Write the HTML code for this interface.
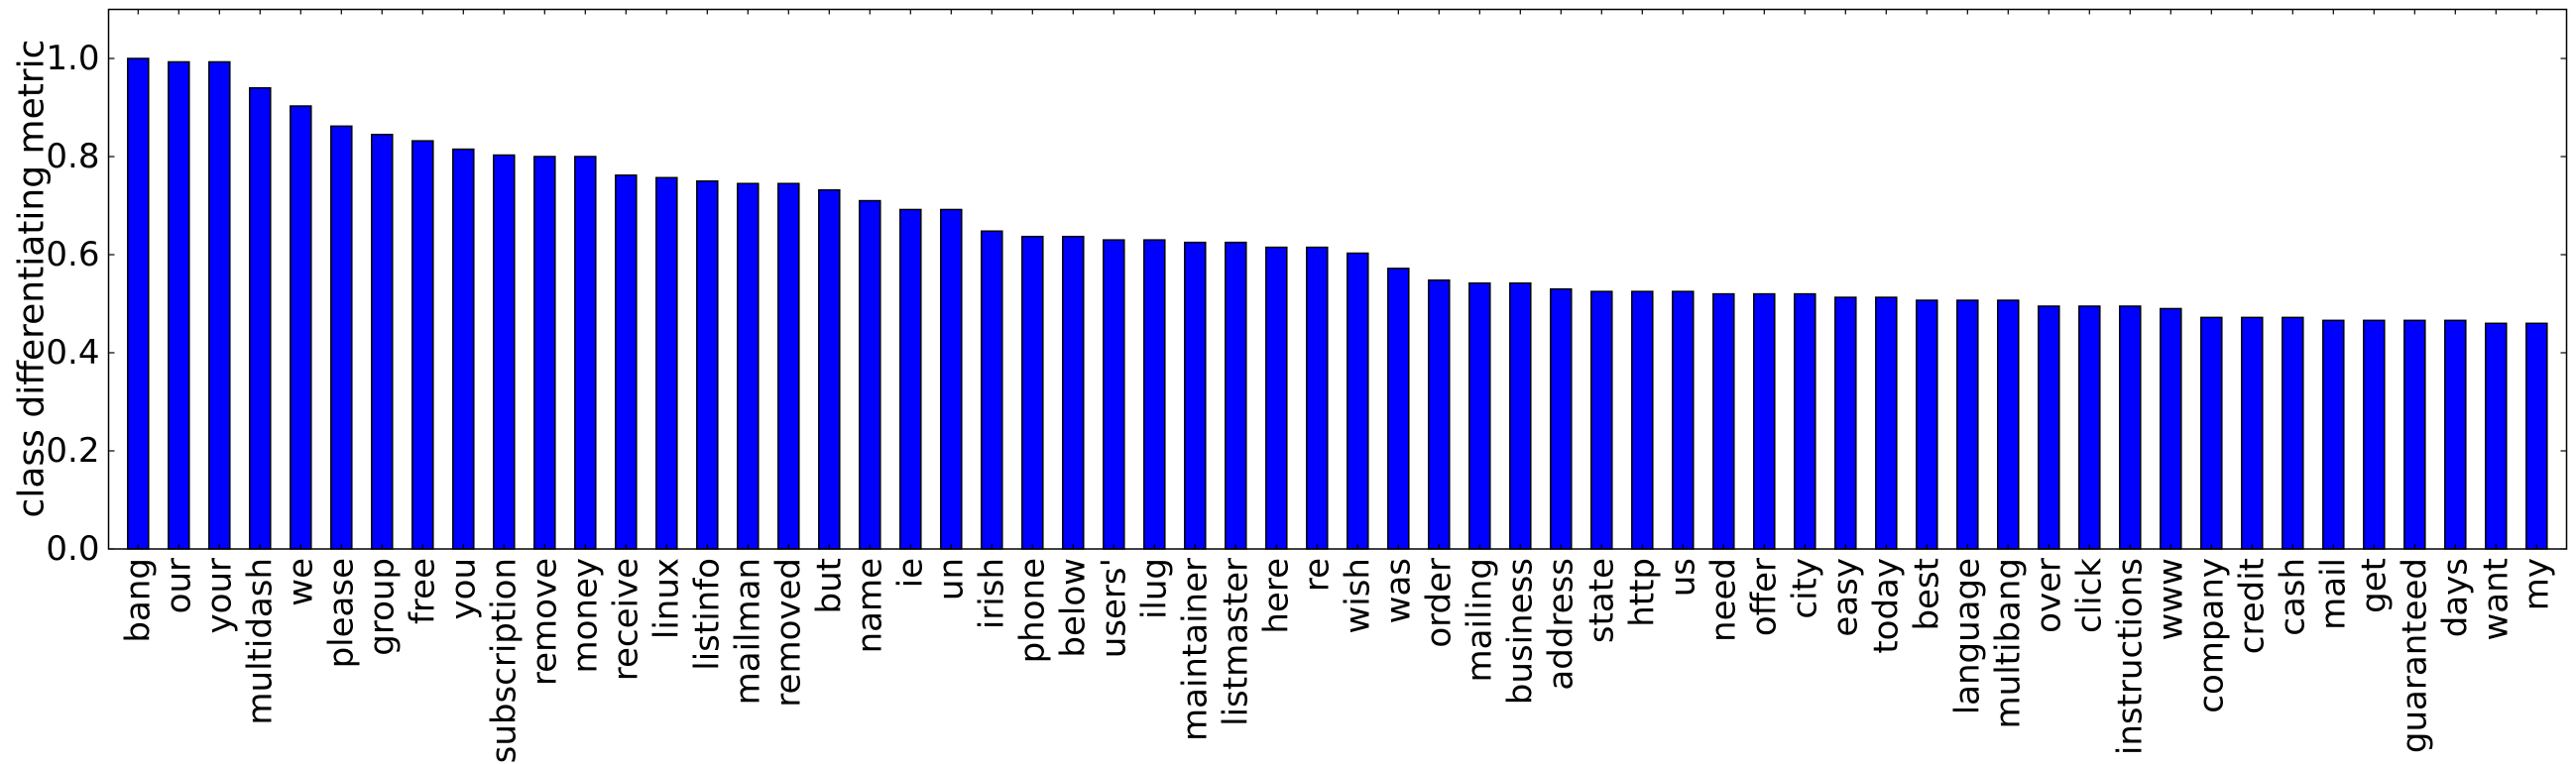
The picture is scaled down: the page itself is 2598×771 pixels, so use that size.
<!DOCTYPE html>
<html><head><meta charset="utf-8"><style>
html,body{margin:0;padding:0;background:#fff;}
svg{display:block;font-family:"DejaVu Sans","Liberation Sans",sans-serif;}
</style></head><body>
<svg id="chart" width="2598" height="771" viewBox="0 0 2598 771" xmlns="http://www.w3.org/2000/svg">
<rect width="2598" height="771" fill="#fff"/>
<g id="bars"></g>
<g id="axes"></g>
<text transform="translate(32,281) rotate(-90)" text-anchor="middle" dominant-baseline="central" font-size="36">class differentiating metric</text>
</svg>
<script>
const categories = ["bang","our","your","multidash","we","please","group","free","you","subscription","remove","money","receive","linux","listinfo","mailman","removed","but","name","ie","un","irish","phone","below","users'","ilug","maintainer","listmaster","here","re","wish","was","order","mailing","business","address","state","http","us","need","offer","city","easy","today","best","language","multibang","over","click","instructions","www","company","credit","cash","mail","get","guaranteed","days","want","my"];
const values = [1.0,0.993,0.993,0.94,0.903,0.862,0.845,0.832,0.815,0.803,0.8,0.8,0.762,0.757,0.75,0.745,0.745,0.732,0.71,0.692,0.692,0.648,0.637,0.637,0.63,0.63,0.625,0.625,0.615,0.615,0.603,0.572,0.548,0.542,0.542,0.53,0.525,0.525,0.525,0.52,0.52,0.52,0.513,0.513,0.507,0.507,0.507,0.495,0.495,0.495,0.49,0.472,0.472,0.472,0.466,0.466,0.466,0.466,0.46,0.46];
const yTicks = [0.0,0.2,0.4,0.6,0.8,1.0];
const yTickLabels = ["0.0","0.2","0.4","0.6","0.8","1.0"];

const NS="http://www.w3.org/2000/svg";
const L=109.5,R=2588.5,T=9.5,B=554;
const yMax=1.1;
const x0=139.3, step=41.0;
function xs(i){return x0+i*step;}
function ys(v){return B-(v/yMax)*(B-T);}
function mk(tag,attrs,parent){const e=document.createElementNS(NS,tag);for(const k in attrs)e.setAttribute(k,attrs[k]);parent.appendChild(e);return e;}
const bars=document.getElementById('bars'), axes=document.getElementById('axes');
const bw=21;
values.forEach((v,i)=>{
  const r=mk('rect',{x:xs(i)-bw/2,y:ys(v),width:bw,height:B-ys(v),fill:'#0000ff',stroke:'#000','stroke-width':1.5},bars);
  
  
});
mk('rect',{x:L,y:T,width:R-L,height:B-T,fill:'none',stroke:'#000','stroke-width':1.5},axes);
yTicks.forEach((t,i)=>{
  const y=ys(t);
  mk('line',{x1:L,x2:L+6,y1:y,y2:y,stroke:'#000','stroke-width':1.2},axes);
  mk('line',{x1:R,x2:R-6,y1:y,y2:y,stroke:'#000','stroke-width':1.2},axes);
  const tx=mk('text',{x:L-9,y:y,'text-anchor':'end','dominant-baseline':'central','font-size':34},axes);
  tx.textContent=yTickLabels[i];
  
  
});
categories.forEach((c,i)=>{
  const x=xs(i);
  mk('line',{x1:x,x2:x,y1:B,y2:B-5,stroke:'#000','stroke-width':1.2},axes);
  mk('line',{x1:x,x2:x,y1:T,y2:T+5,stroke:'#000','stroke-width':1.2},axes);
  const tx=mk('text',{transform:'translate('+x+','+(B+9)+') rotate(-90)','text-anchor':'end','dominant-baseline':'central','font-size':34},axes);
  tx.textContent=c;
  
  
});
</script>
</body></html>
